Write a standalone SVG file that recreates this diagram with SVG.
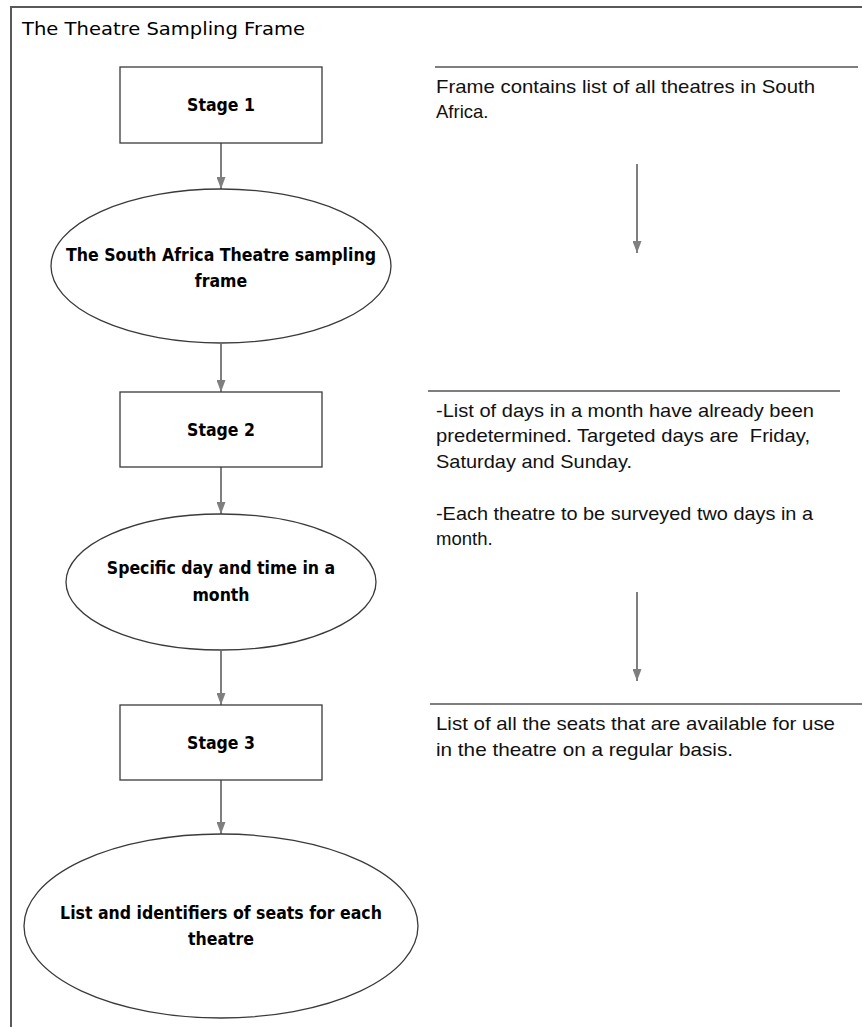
<svg xmlns="http://www.w3.org/2000/svg" width="862" height="1027" viewBox="0 0 862 1027">
<style>
.bg{fill:#ffffff}
.frame{fill:none;stroke:#595959;stroke-width:2}
.node{fill:#ffffff;stroke:#3a3a3a;stroke-width:1.3}
.lbl{font-family:"Liberation Sans Narrow","DejaVu Sans Condensed","Liberation Sans",sans-serif;font-weight:bold;font-size:17.5px;fill:#000;text-anchor:middle}
.title{font-family:"DejaVu Sans","Liberation Sans",sans-serif;font-size:17px;fill:#000}
.note{font-family:"Liberation Sans","DejaVu Sans",sans-serif;font-size:18.5px;fill:#111}
.sep{stroke:#7f7f7f;stroke-width:2.2}
.conn{stroke:#7f7f7f;stroke-width:2;fill:none;marker-end:url(#arr)}
</style>
<defs>
<marker id="arr" viewBox="0 0 12 9" refX="12" refY="4.5" markerWidth="12" markerHeight="9" markerUnits="userSpaceOnUse" orient="auto">
<path d="M0,0 L12,4.5 L0,9 Z" fill="#7f7f7f"/>
</marker>
</defs>
<rect class="bg" x="0" y="0" width="862" height="1027"/>
<path class="frame" d="M11,1027 V7 H862"/>
<text class="title" x="22" y="35" textLength="283" lengthAdjust="spacingAndGlyphs">The Theatre Sampling Frame</text>

<g id="connectors">
<line class="conn" x1="221" y1="143" x2="221" y2="189"/>
<line class="conn" x1="221" y1="344" x2="221" y2="392"/>
<line class="conn" x1="221" y1="467" x2="221" y2="514"/>
<line class="conn" x1="221" y1="651" x2="221" y2="705"/>
<line class="conn" x1="221" y1="780" x2="221" y2="834"/>
<line class="conn" x1="637" y1="164" x2="637" y2="253"/>
<line class="conn" x1="637" y1="592" x2="637" y2="681"/>
</g>

<g id="stage1">
<rect class="node" x="120" y="67" width="202" height="76"/>
<text class="lbl" x="221" y="111">Stage 1</text>
</g>
<g id="frame-node">
<ellipse class="node" cx="221" cy="266" rx="170" ry="77"/>
<text class="lbl" x="221" y="261" textLength="310" lengthAdjust="spacingAndGlyphs">The South Africa Theatre sampling</text>
<text class="lbl" x="221" y="287">frame</text>
</g>
<g id="stage2">
<rect class="node" x="120" y="392" width="202" height="75"/>
<text class="lbl" x="221" y="436">Stage 2</text>
</g>
<g id="day-node">
<ellipse class="node" cx="221" cy="582" rx="155" ry="68"/>
<text class="lbl" x="221" y="574">Specific day and time in a</text>
<text class="lbl" x="221" y="601">month</text>
</g>
<g id="stage3">
<rect class="node" x="120" y="705" width="202" height="75"/>
<text class="lbl" x="221" y="749">Stage 3</text>
</g>
<g id="seats-node">
<ellipse class="node" cx="221" cy="926" rx="197" ry="92"/>
<text class="lbl" x="221" y="919">List and identifiers of seats for each</text>
<text class="lbl" x="221" y="945">theatre</text>
</g>

<g id="note1">
<line class="sep" x1="435" y1="67" x2="858" y2="67"/>
<text class="note" x="436" y="93" textLength="379" lengthAdjust="spacingAndGlyphs">Frame contains list of all theatres in South</text>
<text class="note" x="436" y="118">Africa.</text>
</g>
<g id="note2">
<line class="sep" x1="428" y1="391" x2="840" y2="391"/>
<text class="note" x="436" y="417" textLength="378" lengthAdjust="spacingAndGlyphs">-List of days in a month have already been</text>
<text class="note" x="436" y="442" textLength="374" lengthAdjust="spacingAndGlyphs" xml:space="preserve">predetermined. Targeted days are  Friday,</text>
<text class="note" x="436" y="468" textLength="196" lengthAdjust="spacingAndGlyphs">Saturday and Sunday.</text>
<text class="note" x="436" y="520" textLength="377" lengthAdjust="spacingAndGlyphs">-Each theatre to be surveyed two days in a</text>
<text class="note" x="436" y="545">month.</text>
</g>
<g id="note3">
<line class="sep" x1="430" y1="704" x2="862" y2="704"/>
<text class="note" x="436" y="730" textLength="399" lengthAdjust="spacingAndGlyphs">List of all the seats that are available for use</text>
<text class="note" x="436" y="756" textLength="297" lengthAdjust="spacingAndGlyphs">in the theatre on a regular basis.</text>
</g>
</svg>
